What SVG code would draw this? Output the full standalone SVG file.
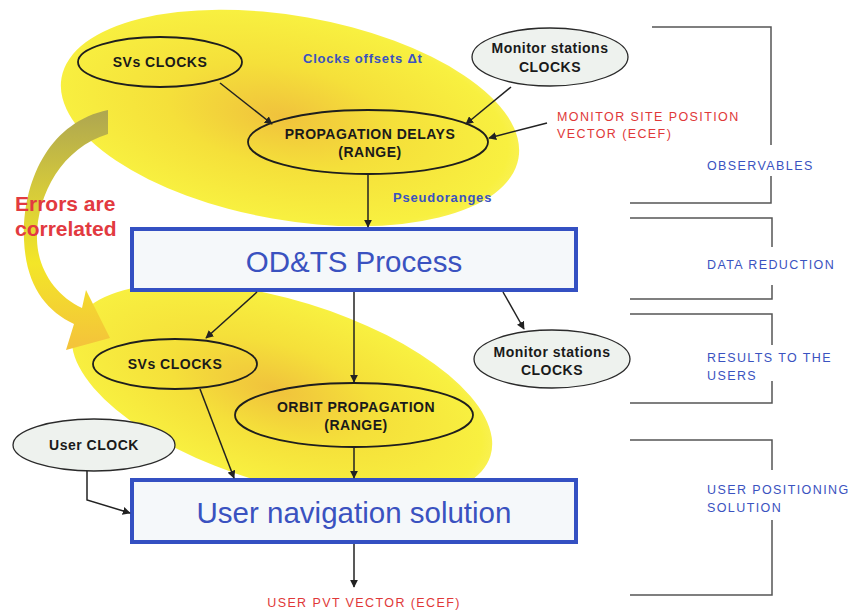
<svg xmlns="http://www.w3.org/2000/svg" width="855" height="611" viewBox="0 0 855 611">
<defs>
<radialGradient id="blob" cx="0.48" cy="0.5" r="0.55">
<stop offset="0" stop-color="#f0c23c"/>
<stop offset="0.45" stop-color="#f5e03a"/>
<stop offset="0.9" stop-color="#f8f040"/>
<stop offset="1" stop-color="#faf260"/>
</radialGradient>
<linearGradient id="arrowg" x1="0" y1="110" x2="0" y2="345" gradientUnits="userSpaceOnUse">
<stop offset="0" stop-color="#aea650"/>
<stop offset="0.35" stop-color="#d6cb3a"/>
<stop offset="0.65" stop-color="#f3e628"/>
<stop offset="1" stop-color="#f4c43a"/>
</linearGradient>
<marker id="ah" viewBox="0 0 10 10" refX="9" refY="5" markerWidth="8" markerHeight="8" markerUnits="userSpaceOnUse" orient="auto">
<path d="M0,0 L10,5 L0,10 Z" fill="#222"/>
</marker>
</defs>
<style>
.node{font-family:"Liberation Sans",Arial,sans-serif;font-weight:bold;font-size:14px;letter-spacing:0.5px;fill:#1a1a1a;text-anchor:middle}
.el{stroke:#1e1e1e;stroke-width:1.8;fill:none}
.mon{stroke:#2a2a2a;stroke-width:1.3;fill:#eef2ee}
.box{fill:#f5f8fa;stroke:#3450c2;stroke-width:4}
.big{font-family:"Liberation Sans",Arial,sans-serif;font-size:29.5px;fill:#3a52c0;text-anchor:middle}
.lbl{font-family:"Liberation Sans",Arial,sans-serif;font-weight:bold;font-size:13px;letter-spacing:0.8px;fill:#3a52c0}
.red{font-family:"Liberation Sans",Arial,sans-serif;font-size:12.5px;fill:#e03838;letter-spacing:1.4px}
.side{font-family:"Liberation Sans",Arial,sans-serif;font-size:12.5px;fill:#3a52c0;letter-spacing:1.4px}
.con{stroke:#222;stroke-width:1.5;fill:none}
.br{stroke:#555;stroke-width:1.5;fill:none}
</style>
<rect width="855" height="611" fill="#ffffff"/>

<g id="blobs">
<ellipse cx="290" cy="118" rx="232" ry="102" transform="rotate(10 290 118)" fill="url(#blob)"/>
<ellipse cx="282" cy="392" rx="218" ry="92" transform="rotate(17 282 392)" fill="url(#blob)"/>
</g>

<g id="corr-arrow">
<path d="M108,110 C50,122 22,180 24,240 C26,285 45,310 74,324 L66,350 L110,338 L86,290 L82,308 C56,296 38,270 37,240 C36,195 62,148 108,134 Z" fill="url(#arrowg)"/>
</g>

<g id="sv-clocks-top">
<ellipse class="el" cx="160" cy="62" rx="82" ry="25"/>
<text class="node" x="160" y="67">SVs CLOCKS</text>
</g>
<g id="monitor-top">
<ellipse class="mon" cx="550" cy="57" rx="78" ry="29"/>
<text class="node" x="550" y="53">Monitor stations</text>
<text class="node" x="550" y="72">CLOCKS</text>
</g>
<g id="prop-delays">
<ellipse class="el" cx="368" cy="142" rx="120" ry="32"/>
<text class="node" x="370" y="139">PROPAGATION DELAYS</text>
<text class="node" x="370" y="157">(RANGE)</text>
</g>
<g id="odts">
<rect class="box" x="132" y="229" width="444" height="61"/>
<text class="big" x="354" y="272">OD&amp;TS Process</text>
</g>
<g id="sv-clocks-bottom">
<ellipse class="el" cx="175" cy="364" rx="82" ry="25"/>
<text class="node" x="175" y="369">SVs CLOCKS</text>
</g>
<g id="orbit-prop">
<ellipse class="el" cx="354" cy="415" rx="119" ry="32"/>
<text class="node" x="356" y="412">ORBIT PROPAGATION</text>
<text class="node" x="356" y="430">(RANGE)</text>
</g>
<g id="monitor-bottom">
<ellipse class="mon" cx="552" cy="359" rx="78" ry="29"/>
<text class="node" x="552" y="357">Monitor stations</text>
<text class="node" x="552" y="375">CLOCKS</text>
</g>
<g id="user-clock">
<ellipse class="mon" cx="94" cy="445" rx="81" ry="26"/>
<text class="node" x="94" y="450">User CLOCK</text>
</g>
<g id="user-nav">
<rect class="box" x="132" y="480" width="444" height="62"/>
<text class="big" x="354" y="523">User navigation solution</text>
</g>

<g id="connectors">
<line class="con" x1="220" y1="83" x2="272" y2="124" marker-end="url(#ah)"/>
<line class="con" x1="511" y1="87" x2="466" y2="124" marker-end="url(#ah)"/>
<line class="con" x1="547" y1="123" x2="489" y2="138" marker-end="url(#ah)"/>
<line class="con" x1="368" y1="174" x2="368" y2="227" marker-end="url(#ah)"/>
<line class="con" x1="257" y1="292" x2="206" y2="338" marker-end="url(#ah)"/>
<line class="con" x1="354" y1="292" x2="354" y2="382" marker-end="url(#ah)"/>
<line class="con" x1="503" y1="292" x2="524" y2="329" marker-end="url(#ah)"/>
<line class="con" x1="200" y1="389" x2="234" y2="478" marker-end="url(#ah)"/>
<line class="con" x1="354" y1="447" x2="354" y2="478" marker-end="url(#ah)"/>
<polyline class="con" points="87,471 87,500 130,513" marker-end="url(#ah)"/>
<line class="con" x1="354" y1="544" x2="354" y2="587" stroke-width="1" marker-end="url(#ah)"/>
</g>

<g id="labels">
<text class="lbl" x="303" y="63">Clocks offsets Δt</text>
<text class="lbl" x="393" y="202">Pseudoranges</text>
<text class="red" x="557" y="121">MONITOR SITE POSITION</text>
<text class="red" x="557" y="138">VECTOR (ECEF)</text>
<text class="red" x="364" y="607" text-anchor="middle" font-size="11.5" letter-spacing="1.8">USER PVT VECTOR (ECEF)</text>
<text x="15" y="211" font-family="Liberation Sans,Arial,sans-serif" font-weight="bold" font-size="21" fill="#e23a40">Errors are</text>
<text x="15" y="236" font-family="Liberation Sans,Arial,sans-serif" font-weight="bold" font-size="21" fill="#e23a40">correlated</text>
</g>

<g id="brackets">
<path class="br" d="M652,27 H771 V145 M771,176 V203 H630"/>
<text class="side" x="707" y="170">OBSERVABLES</text>
<path class="br" d="M630,218 H772 V247 M772,285 V299 H630"/>
<text class="side" x="707" y="269">DATA REDUCTION</text>
<path class="br" d="M630,314 H772 V345 M772,381 V403 H630"/>
<text class="side" x="707" y="362">RESULTS TO THE</text>
<text class="side" x="707" y="380">USERS</text>
<path class="br" d="M630,440 H772 V470 M772,520 V595 H630"/>
<text class="side" x="707" y="494">USER POSITIONING</text>
<text class="side" x="707" y="512">SOLUTION</text>
</g>
</svg>
